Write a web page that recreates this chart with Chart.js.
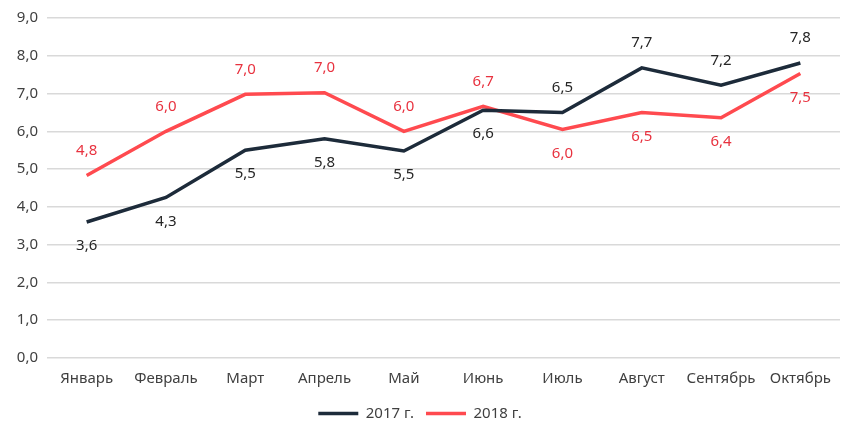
<!DOCTYPE html>
<html>
<head>
<meta charset="utf-8">
<script src="https://cdn.jsdelivr.net/npm/chart.js@4.4.0/dist/chart.umd.min.js"></script>
<style>
  body { margin: 0; background: #fff; }
  #box { width: 850px; height: 435px; }
</style>
</head>
<body>
<div id="box"><canvas id="chart1" width="850" height="435"></canvas></div>
<script>
var months = ["Январь", "Февраль", "Март", "Апрель", "Май", "Июнь", "Июль", "Август", "Сентябрь", "Октябрь"];
var values2017 = [3.6, 4.25, 5.5, 5.8, 5.48, 6.56, 6.5, 7.68, 7.22, 7.81];
var values2018 = [4.83, 6.0, 6.98, 7.02, 6.0, 6.66, 6.05, 6.5, 6.36, 7.53];
var yTicks = [0, 1, 2, 3, 4, 5, 6, 7, 8, 9];

var navy = "#1d2b3a";
var red = "#ff4a4f";
var fontName = "'Noto Sans'";

function fmt(v) {
    return v.toFixed(1).replace(".", ",");
}

// подписи значений: у верхней линии сверху, у нижней снизу
var valueLabels = {
    id: "valueLabels",
    afterDatasetsDraw: function (chart) {
        var ctx = chart.ctx;
        var sets = chart.data.datasets;
        ctx.save();
        ctx.font = "15px " + fontName;
        ctx.textAlign = "center";
        ctx.textBaseline = "middle";
        sets.forEach(function (ds, di) {
            var meta = chart.getDatasetMeta(di);
            var other = sets[1 - di].data;
            meta.data.forEach(function (pt, i) {
                var above = ds.data[i] >= other[i];
                ctx.fillStyle = ds.labelColor;
                ctx.fillText(fmt(ds.data[i]), pt.x, above ? pt.y - 25 : pt.y + 24);
            });
        });
        ctx.restore();
    }
};

var config = {
    type: "line",
    data: {
        labels: months,
        datasets: [{
            label: "2017 г.",
            data: values2017,
            borderColor: navy,
            backgroundColor: navy,
            labelColor: "#262626",
            borderWidth: 3.5,
            pointRadius: 0,
            tension: 0
        },
        {
            label: "2018 г.",
            data: values2018,
            borderColor: red,
            backgroundColor: red,
            labelColor: "#e8323f",
            borderWidth: 3.5,
            pointRadius: 0,
            tension: 0
        }]
    },
    options: {
        responsive: false,
        animation: false,
        layout: { padding: { top: 15, right: 10, bottom: 4, left: 0 } },
        plugins: {
            tooltip: { enabled: false },
            legend: {
                position: "bottom",
                labels: {
                    usePointStyle: true,
                    pointStyle: "line",
                    pointStyleWidth: 40,
                    color: "#404040",
                    font: { family: fontName, size: 15 },
                    padding: 12
                }
            }
        },
        scales: {
            x: {
                offset: true,
                grid: { display: false, drawTicks: false },
                border: { display: false },
                ticks: { color: "#404040", font: { family: fontName, size: 15 }, padding: 12, maxRotation: 0 },
                afterFit: function (s) { s.height = 36; }
            },
            y: {
                min: 0,
                max: 9,
                grid: { color: "#d9d9d9", lineWidth: 1.5, drawTicks: false },
                border: { display: false },
                afterBuildTicks: function (s) { s.ticks = yTicks.map(function (v) { return { value: v }; }); },
                ticks: {
                    color: "#404040",
                    font: { family: fontName, size: 15 },
                    padding: 9,
                    callback: function (v) { return fmt(v); }
                },
                afterFit: function (s) { s.width = 47; }
            }
        }
    },
    plugins: [valueLabels]
};

var myChart = new Chart(document.getElementById("chart1"), config);
</script>
</body>
</html>
